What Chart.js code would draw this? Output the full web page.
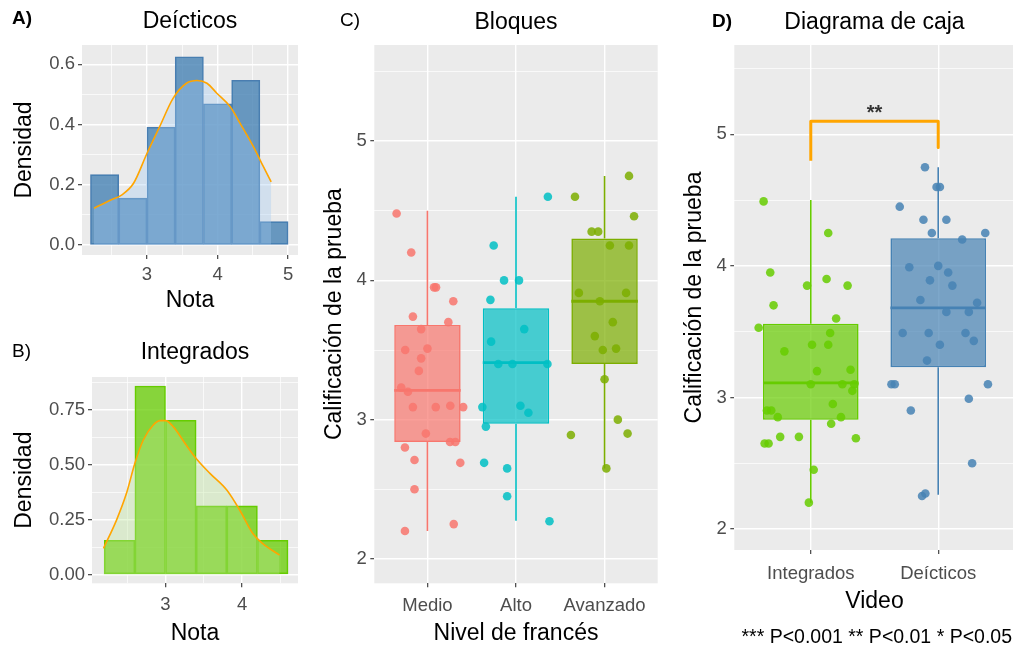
<!DOCTYPE html>
<html>
<head>
<meta charset="utf-8">
<script src="https://cdn.jsdelivr.net/npm/chart.js@4.4.1/dist/chart.umd.min.js"></script>
<style>
  html, body { margin: 0; padding: 0; overflow: hidden; background: #fff; }
  body { width: 1013px; height: 649px; position: relative; font-family: 'Liberation Sans', Arial, sans-serif; }
  canvas { position: absolute; }
  .tag { position: absolute; font-size: 19px; line-height: 19px; color: #000; }
  .caption { position: absolute; right: 1px; top: 625px; font-size: 19.5px; line-height: 23px; color: #000; white-space: nowrap; }
</style>
</head>
<body>
<canvas id="histA" width="310" height="322" style="left:0;top:0"></canvas>
<canvas id="histB" width="310" height="327" style="left:0;top:322px"></canvas>
<canvas id="boxC" width="360" height="649" style="left:310px;top:0"></canvas>
<canvas id="boxD" width="349" height="649" style="left:670px;top:0"></canvas>
<div class="tag" style="left:12px;top:8px;font-weight:bold">A)</div>
<div class="tag" style="left:12px;top:341px">B)</div>
<div class="tag" style="left:340px;top:10px">C)</div>
<div class="tag" style="left:712px;top:11px;font-weight:bold">D)</div>
<div class="caption">*** P&lt;0.001 ** P&lt;0.01 * P&lt;0.05</div>
<script>
// --- A) histograma Deícticos (densidad, bins de 0.4) ---
const DEI_BIN_MIDS = [2.4, 2.8, 3.2, 3.6, 4.0, 4.4, 4.8];
const DEI_DENSITY = [0.234, 0.156, 0.391, 0.625, 0.469, 0.547, 0.078];
const DEI_KDE_X = [2.25, 2.48, 2.64, 2.81, 3.0, 3.18, 3.37, 3.56, 3.71, 3.85, 3.99, 4.18, 4.32, 4.51, 4.65, 4.76];
const DEI_KDE_Y = [0.122, 0.149, 0.166, 0.205, 0.304, 0.393, 0.487, 0.537, 0.546, 0.537, 0.504, 0.459, 0.404, 0.326, 0.260, 0.210];

// --- B) histograma Integrados ---
const INT_BIN_MIDS = [2.4, 2.8, 3.2, 3.6, 4.0, 4.4];
const INT_DENSITY = [0.156, 0.859, 0.703, 0.313, 0.313, 0.156];
const INT_KDE_X = [2.19, 2.36, 2.49, 2.60, 2.71, 2.84, 2.93, 3.0, 3.10, 3.27, 3.40, 3.58, 3.80, 3.97, 4.14, 4.27, 4.49];
const INT_KDE_Y = [0.119, 0.248, 0.370, 0.507, 0.613, 0.681, 0.701, 0.701, 0.674, 0.590, 0.529, 0.461, 0.385, 0.293, 0.187, 0.141, 0.088];

// --- C) Bloques por nivel de francés ---
const LEVELS = ['Medio', 'Alto', 'Avanzado'];
const LEVEL_LO = [2.2, 2.275, 2.65];
const LEVEL_Q1 = [2.84, 2.97, 3.40];
const LEVEL_MED = [3.21, 3.41, 3.85];
const LEVEL_Q3 = [3.68, 3.80, 4.30];
const LEVEL_HI = [4.5, 4.6, 4.75];
const MEDIO_X = [0.652, 0.817, 1.075, 1.097, 1.292, 0.836, 1.236, 0.929, 0.749, 1.0, 0.929, 0.903, 0.704, 0.780, 0.836, 1.094, 1.258, 1.404, 0.982, 1.255, 1.315, 0.746, 0.854, 1.371, 0.854, 0.746, 1.297];
const MEDIO_Y = [4.48, 4.20, 3.95, 3.95, 3.85, 3.74, 3.70, 3.65, 3.50, 3.51, 3.44, 3.35, 3.23, 3.20, 3.09, 3.09, 3.10, 3.09, 2.90, 2.84, 2.84, 2.80, 2.71, 2.69, 2.50, 2.20, 2.25];
const ALTO_X = [2.36, 1.748, 1.865, 2.034, 1.711, 2.093, 1.719, 1.80, 1.96, 2.355, 1.62, 2.05, 2.14, 1.66, 1.64, 1.90, 1.90, 2.378];
const ALTO_Y = [4.60, 4.25, 4.00, 4.00, 3.86, 3.65, 3.56, 3.40, 3.40, 3.40, 3.09, 3.10, 3.05, 2.95, 2.69, 2.65, 2.45, 2.27];
const AVANZ_X = [3.276, 2.666, 3.333, 2.854, 2.928, 3.06, 3.276, 2.71, 3.243, 2.947, 3.093, 2.89, 2.98, 3.13, 3.0, 3.15, 3.26, 2.62, 3.02];
const AVANZ_Y = [4.75, 4.60, 4.46, 4.35, 4.35, 4.25, 4.25, 3.91, 3.91, 3.85, 3.70, 3.60, 3.50, 3.51, 3.29, 3.00, 2.90, 2.89, 2.65];

// --- D) Diagrama de caja por video ---
const VIDEOS = ['Integrados', 'Deícticos'];
const VIDEO_LO = [2.2, 2.26];
const VIDEO_Q1 = [2.83, 3.23];
const VIDEO_MED = [3.11, 3.68];
const VIDEO_Q3 = [3.56, 4.21];
const VIDEO_HI = [4.5, 4.75];
const INTEG_X = [0.63, 1.137, 0.682, 1.124, 0.971, 1.289, 0.708, 1.199, 0.591, 1.152, 1.01, 1.137, 0.793, 1.049, 1.312, 1.0, 1.248, 1.341, 1.326, 1.173, 0.656, 0.69, 0.741, 1.237, 1.16, 0.76, 0.907, 1.354, 0.638, 0.669, 1.023, 0.985];
const INTEG_Y = [4.49, 4.25, 3.95, 3.90, 3.85, 3.85, 3.70, 3.60, 3.53, 3.49, 3.40, 3.40, 3.35, 3.20, 3.21, 3.10, 3.10, 3.10, 3.05, 2.95, 2.90, 2.90, 2.85, 2.85, 2.80, 2.70, 2.70, 2.69, 2.65, 2.65, 2.45, 2.20];
const DEIC_X = [1.896, 1.987, 2.013, 1.698, 1.884, 2.064, 1.95, 2.369, 2.188, 1.773, 2.0, 2.078, 1.935, 2.111, 1.86, 2.305, 2.064, 2.24, 1.721, 1.925, 2.214, 2.279, 2.013, 1.912, 1.633, 1.659, 2.39, 2.24, 1.785, 2.266, 1.873, 1.899];
const DEIC_Y = [4.75, 4.60, 4.60, 4.45, 4.35, 4.35, 4.25, 4.25, 4.20, 3.99, 4.00, 3.95, 3.89, 3.85, 3.74, 3.72, 3.65, 3.65, 3.49, 3.49, 3.49, 3.43, 3.40, 3.28, 3.10, 3.10, 3.10, 2.99, 2.90, 2.50, 2.25, 2.27];
const BRACKET_X = [1, 1, 2, 2];
const BRACKET_Y = [4.8, 5.1, 5.1, 4.9];
const SIG_TEXT = '**';

const FONT = "'Liberation Sans', Arial, sans-serif";
const BOX_HALF = 0.375;

function near(v, list) {
  return list.some(m => Math.abs(m - v) < 1e-6);
}
function rgba(hex, a) {
  const n = parseInt(hex.slice(1), 16);
  return 'rgba(' + (n >> 16) + ',' + ((n >> 8) & 255) + ',' + (n & 255) + ',' + a + ')';
}
function pts(xs, ys) {
  return xs.map((x, i) => ({ x: x, y: ys[i] }));
}

// fondo gris tipo ggplot
const panelBg = {
  id: 'panelBg',
  beforeDraw(chart) {
    const a = chart.chartArea, ctx = chart.ctx;
    ctx.save();
    ctx.fillStyle = '#EBEBEB';
    ctx.fillRect(a.left, a.top, a.right - a.left, a.bottom - a.top);
    ctx.restore();
  }
};

function axis(c) {
  const all = c.major.concat(c.minor || []).sort((a, b) => a - b);
  return {
    type: 'linear', position: c.position, min: c.min, max: c.max,
    offset: false, beginAtZero: false,
    afterBuildTicks: s => { s.ticks = all.map(v => ({ value: v })); },
    afterFit: s => { if (c.position === 'left') s.width = c.size; else s.height = c.size; },
    border: { display: false },
    grid: {
      offset: false,
      color: '#FFFFFF',
      lineWidth: ctx => (ctx.tick && near(ctx.tick.value, c.major)) ? 1.4 : 0.7,
      tickLength: 4,
      tickWidth: 1.1,
      tickColor: ctx => (ctx.tick && near(ctx.tick.value, c.major)) ? '#333333' : 'rgba(0,0,0,0)'
    },
    ticks: {
      autoSkip: false, maxRotation: 0, minRotation: 0,
      padding: c.tickPad, color: '#4D4D4D',
      font: { family: FONT, size: 18.5 },
      callback: v => near(v, c.major) ? c.fmt(v) : ''
    },
    title: {
      display: true, text: c.title, color: '#000',
      font: { family: FONT, size: 23 }, padding: c.titlePad
    }
  };
}

function baseOptions(title, titlePad, rightPad, xAxis, yAxis) {
  return {
    responsive: false, animation: false, events: [],
    layout: { padding: { left: 0, right: rightPad, top: 0, bottom: 0 } },
    plugins: {
      legend: { display: false },
      tooltip: { enabled: false },
      title: {
        display: true, text: title, fullSize: false, color: '#000',
        font: { family: FONT, size: 23, weight: 'normal' }, padding: titlePad
      }
    },
    scales: { x: xAxis, y: yAxis }
  };
}

function histogram(id, p) {
  new Chart(document.getElementById(id), {
    type: 'bar',
    data: {
      datasets: [
        {
          type: 'line', data: pts(p.kdeX, p.kdeY),
          borderColor: '#FFA500', borderWidth: 1.6, pointRadius: 0,
          cubicInterpolationMode: 'monotone',
          fill: 'origin', backgroundColor: p.kdeFill, order: 0
        },
        {
          type: 'bar', data: pts(p.mids, p.dens),
          backgroundColor: p.barFill, borderColor: p.barLine, borderWidth: 1,
          borderSkipped: false, barPercentage: 1, categoryPercentage: 1, order: 1
        }
      ]
    },
    options: baseOptions(p.title, p.titlePad, 12, p.x, p.y),
    plugins: [panelBg]
  });
}

histogram('histA', {
  title: 'Deícticos', titlePad: { top: 8.2, bottom: 9.2 },
  mids: DEI_BIN_MIDS, dens: DEI_DENSITY, kdeX: DEI_KDE_X, kdeY: DEI_KDE_Y,
  barFill: 'rgba(70,130,180,0.8)', barLine: '#4A7DB0', kdeFill: 'rgba(160,200,240,0.35)',
  x: axis({ position: 'bottom', min: 2.08, max: 5.14, major: [3, 4, 5], minor: [2.5, 3.5, 4.5],
            fmt: v => String(v), size: 67, tickPad: 4.9, title: 'Nota', titlePad: { top: 0, bottom: 7.2 } }),
  y: axis({ position: 'left', min: -0.033, max: 0.664, major: [0, 0.2, 0.4, 0.6], minor: [0.1, 0.3, 0.5],
            fmt: v => v.toFixed(1), size: 82, tickPad: 3, title: 'Densidad', titlePad: { top: 11.2, bottom: 0 } })
});

histogram('histB', {
  title: 'Integrados', titlePad: { top: 17.2, bottom: 10.2 },
  mids: INT_BIN_MIDS, dens: INT_DENSITY, kdeX: INT_KDE_X, kdeY: INT_KDE_Y,
  barFill: 'rgba(102,204,0,0.75)', barLine: '#66CC00', kdeFill: 'rgba(185,228,150,0.35)',
  x: axis({ position: 'bottom', min: 2.04, max: 4.73, major: [3, 4], minor: [2.5, 3.5, 4.5],
            fmt: v => String(v), size: 65.7, tickPad: 6.6, title: 'Nota', titlePad: { top: 0, bottom: 1.9 } }),
  y: axis({ position: 'left', min: -0.04, max: 0.90, major: [0, 0.25, 0.5, 0.75], minor: [0.125, 0.375, 0.625, 0.875],
            fmt: v => v.toFixed(2), size: 92, tickPad: 3, title: 'Densidad', titlePad: { top: 11.2, bottom: 0 } })
});

function boxplot(id, p) {
  const datasets = [];
  p.groups.forEach((g, i) => {
    datasets.push({
      type: 'scatter', data: pts(g.x, g.y), pointRadius: 4.3,
      pointBackgroundColor: rgba(p.colors[i], 0.85), pointBorderWidth: 0, order: 0
    });
  });
  p.med.forEach((m, i) => {
    datasets.push({
      type: 'line', data: [{ x: i + 1 - BOX_HALF, y: m }, { x: i + 1 + BOX_HALF, y: m }],
      borderColor: p.colors[i], borderWidth: 2.8, pointRadius: 0, order: 1
    });
  });
  datasets.push({
    type: 'bar', data: p.q1.map((q, i) => ({ x: i + 1, y: [q, p.q3[i]] })),
    backgroundColor: p.colors.map(c => rgba(c, 0.7)), borderColor: p.colors, borderWidth: 1.6,
    borderSkipped: false, barPercentage: 0.75, categoryPercentage: 1, order: 2
  });
  p.lo.forEach((lo, i) => {
    datasets.push({
      type: 'line',
      data: [{ x: i + 1, y: lo }, { x: i + 1, y: p.q1[i] }, { x: i + 1, y: null },
             { x: i + 1, y: p.q3[i] }, { x: i + 1, y: p.hi[i] }],
      borderColor: p.colors[i], borderWidth: 1.6, pointRadius: 0, spanGaps: false, order: 3
    });
  });
  (p.extra || []).forEach(d => datasets.push(d));
  new Chart(document.getElementById(id), {
    type: 'bar',
    data: { datasets: datasets },
    options: baseOptions(p.title, { top: 8.9, bottom: 8.5 }, p.rightPad, p.x, p.y),
    plugins: [panelBg].concat(p.plugins || [])
  });
}

boxplot('boxC', {
  title: 'Bloques', rightPad: 12.3,
  colors: ['#F8766D', '#00BFC4', '#7CAE00'],
  lo: LEVEL_LO, q1: LEVEL_Q1, med: LEVEL_MED, q3: LEVEL_Q3, hi: LEVEL_HI,
  groups: [{ x: MEDIO_X, y: MEDIO_Y }, { x: ALTO_X, y: ALTO_Y }, { x: AVANZ_X, y: AVANZ_Y }],
  x: axis({ position: 'bottom', min: 0.4, max: 3.6, major: [1, 2, 3], minor: [],
            fmt: v => LEVELS[Math.round(v) - 1], size: 65.7, tickPad: 7.6,
            title: 'Nivel de francés', titlePad: { top: 0, bottom: 1.9 } }),
  y: axis({ position: 'left', min: 1.825, max: 5.69, major: [2, 3, 4, 5], minor: [2.5, 3.5, 4.5, 5.5],
            fmt: v => String(v), size: 64.3, tickPad: 3.5,
            title: 'Calificación de la prueba', titlePad: { top: 11.2, bottom: 0 } })
});

const sigLabel = {
  id: 'sigLabel',
  afterDatasetsDraw(chart) {
    const ctx = chart.ctx, sx = chart.scales.x, sy = chart.scales.y;
    ctx.save();
    ctx.fillStyle = '#333333';
    ctx.font = 'bold 20px ' + FONT;
    ctx.textAlign = 'center';
    ctx.textBaseline = 'alphabetic';
    ctx.fillText(SIG_TEXT, sx.getPixelForValue((BRACKET_X[0] + BRACKET_X[3]) / 2), sy.getPixelForValue(BRACKET_Y[1]) - 2);
    ctx.restore();
  }
};

boxplot('boxD', {
  title: 'Diagrama de caja', rightPad: 0,
  colors: ['#66CC00', '#4682B4'],
  lo: VIDEO_LO, q1: VIDEO_Q1, med: VIDEO_MED, q3: VIDEO_Q3, hi: VIDEO_HI,
  groups: [{ x: INTEG_X, y: INTEG_Y }, { x: DEIC_X, y: DEIC_Y }],
  extra: [{
    type: 'line', data: pts(BRACKET_X, BRACKET_Y), borderColor: '#FFA500', borderWidth: 3,
    pointRadius: 0, borderJoinStyle: 'round', order: 0
  }],
  plugins: [sigLabel],
  x: axis({ position: 'bottom', min: 0.4, max: 2.6, major: [1, 2], minor: [],
            fmt: v => VIDEOS[Math.round(v) - 1], size: 99, tickPad: 8.9,
            title: 'Video', titlePad: { top: 0, bottom: 33.5 } }),
  y: axis({ position: 'left', min: 1.84, max: 5.679, major: [2, 3, 4, 5], minor: [2.5, 3.5, 4.5, 5.5],
            fmt: v => String(v), size: 64.3, tickPad: 3.5,
            title: 'Calificación de la prueba', titlePad: { top: 11.2, bottom: 0 } })
});
</script>
</body>
</html>
